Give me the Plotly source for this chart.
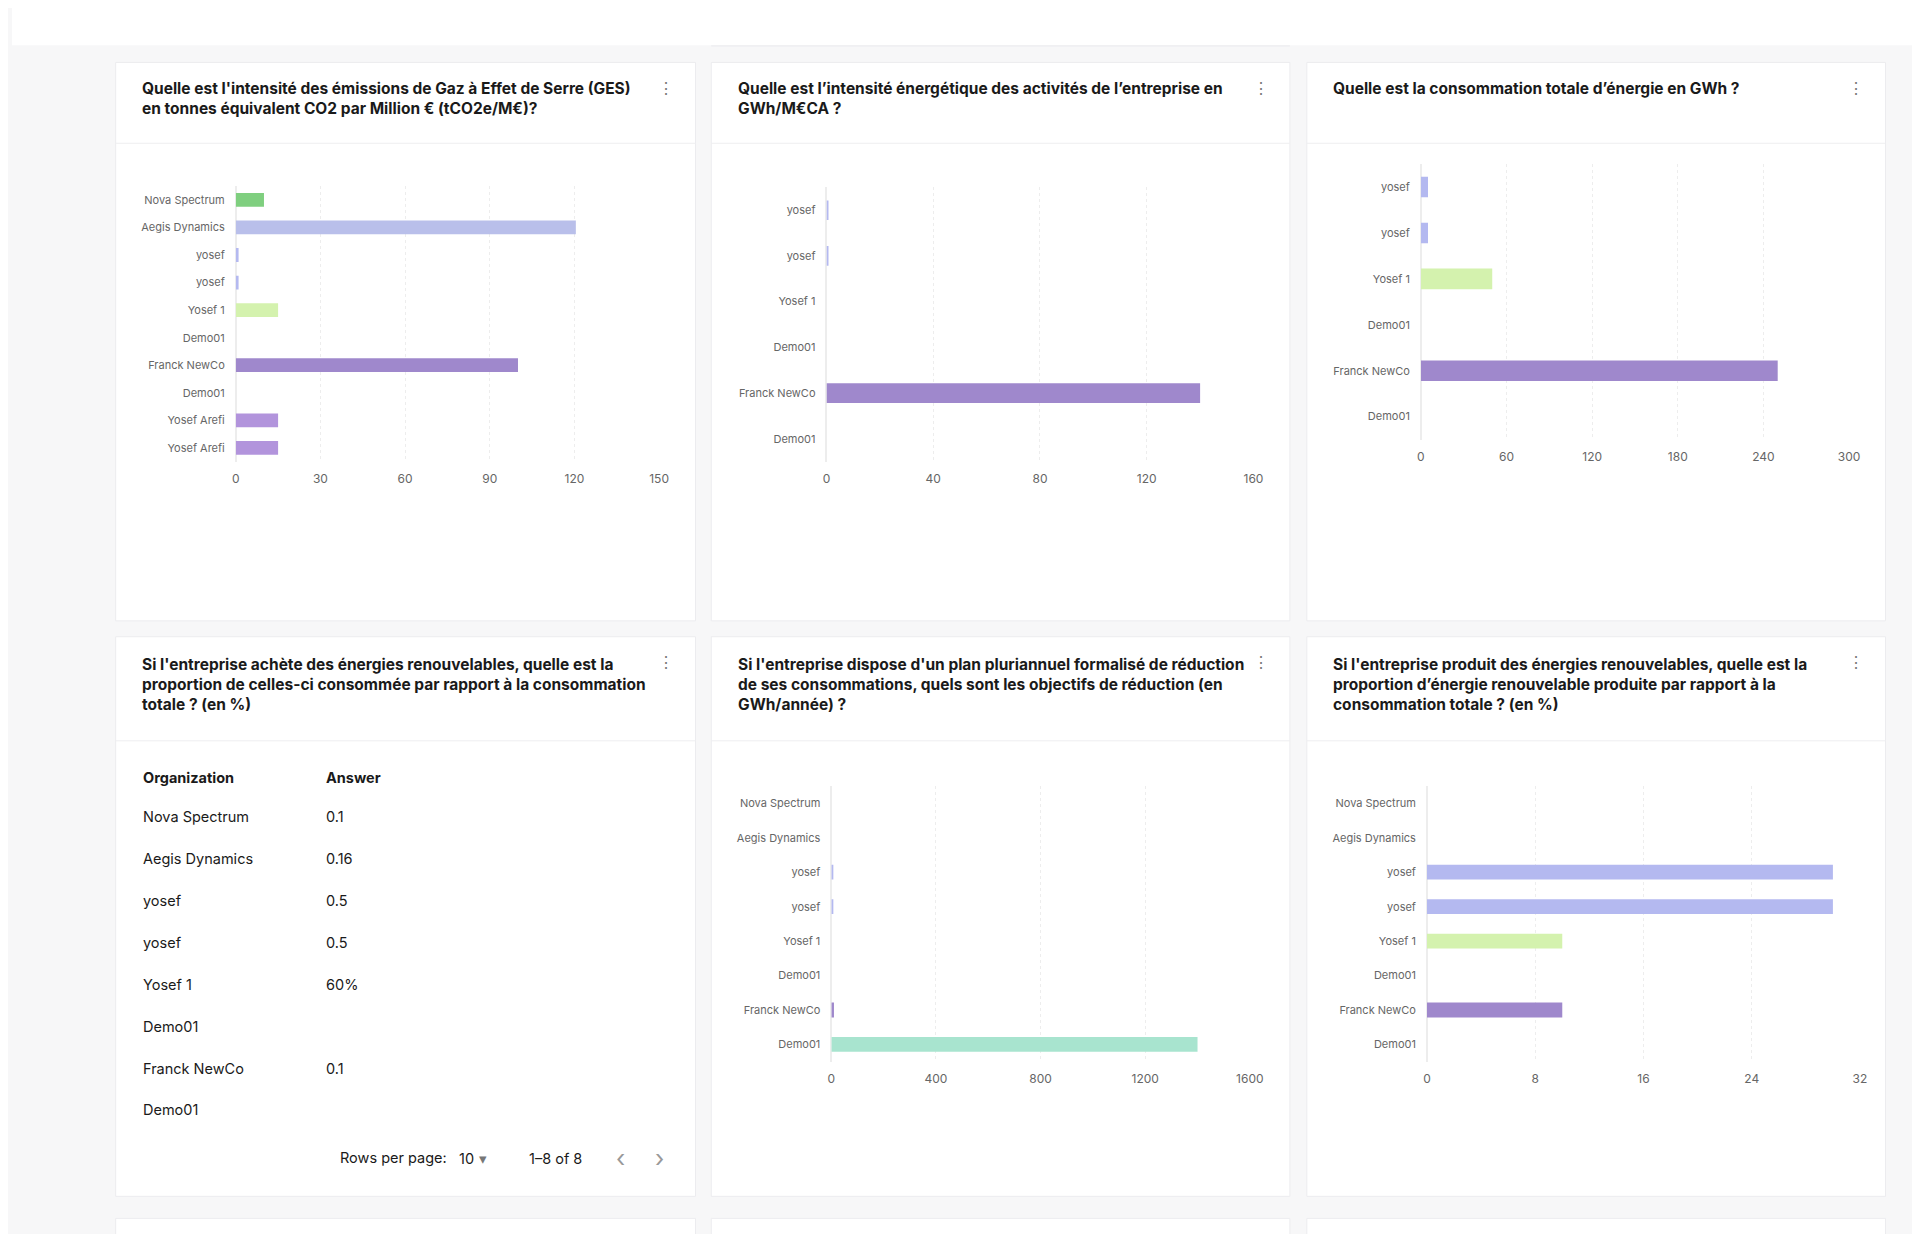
import plotly.graph_objects as go

S = 1920 / 1568
W, H = 1920, 1234
OFF = 8
FONT = "Inter"

# ---------------- data ----------------
c1_labels = ["Nova Spectrum", "Aegis Dynamics", "yosef", "yosef", "Yosef 1", "Demo01",
             "Franck NewCo", "Demo01", "Yosef Arefi", "Yosef Arefi"]
c1_values = [10, 120.5, 1, 1, 15, 0, 100, 0, 15, 15]
c1_colors = ["#7fcf7f", "#b9bfea", "#b4b9f0", "#b4b9f0", "#d4f2ae", "#d4f2ae",
             "#9f88cc", "#9f88cc", "#b294dc", "#b294dc"]

c2_labels = ["yosef", "yosef", "Yosef 1", "Demo01", "Franck NewCo", "Demo01"]
c2_values = [0.5, 0.5, 0, 0, 140, 0]
c2_colors = ["#b4b9f0", "#b4b9f0", "#d4f2ae", "#d4f2ae", "#9f88cc", "#9f88cc"]

c3_labels = ["yosef", "yosef", "Yosef 1", "Demo01", "Franck NewCo", "Demo01"]
c3_values = [5, 5, 50, 0, 250, 0]
c3_colors = ["#b4b9f0", "#b4b9f0", "#d4f2ae", "#d4f2ae", "#9f88cc", "#9f88cc"]

c5_labels = ["Nova Spectrum", "Aegis Dynamics", "yosef", "yosef", "Yosef 1", "Demo01",
             "Franck NewCo", "Demo01"]
c5_values = [0, 0, 5, 5, 0, 0, 10, 1400]
c5_colors = ["#7fcf7f", "#b9bfea", "#b4b9f0", "#b4b9f0", "#d4f2ae", "#d4f2ae",
             "#9f88cc", "#a8e4cf"]

c6_labels = ["Nova Spectrum", "Aegis Dynamics", "yosef", "yosef", "Yosef 1", "Demo01",
             "Franck NewCo", "Demo01"]
c6_values = [0, 0, 30, 30, 10, 0, 10, 0]
c6_colors = ["#7fcf7f", "#b9bfea", "#b4b9f0", "#b4b9f0", "#d4f2ae", "#d4f2ae",
             "#9f88cc", "#9f88cc"]

table_org = ["Nova Spectrum", "Aegis Dynamics", "yosef", "yosef", "Yosef 1", "Demo01",
             "Franck NewCo", "Demo01"]
table_ans = ["0.1", "0.16", "0.5", "0.5", "60%", "", "0.1", ""]

titles = [
    "Quelle est l'intensité des émissions de Gaz à Effet de Serre (GES)<br>en tonnes équivalent CO2 par Million € (tCO2e/M€)?",
    "Quelle est l’intensité énergétique des activités de l’entreprise en<br>GWh/M€CA ?",
    "Quelle est la consommation totale d’énergie en GWh ?",
    "Si l'entreprise achète des énergies renouvelables, quelle est la<br>proportion de celles-ci consommée par rapport à la consommation<br>totale ? (en %)",
    "Si l'entreprise dispose d'un plan pluriannuel formalisé de réduction<br>de ses consommations, quels sont les objectifs de réduction (en<br>GWh/année) ?",
    "Si l'entreprise produit des énergies renouvelables, quelle est la<br>proportion d’énergie renouvelable produite par rapport à la<br>consommation totale ? (en %)",
]

def px(x): return (x * S - OFF) / W
def py(y): return 1 - (y * S - OFF) / H

fig = go.Figure()
shapes = []
ann = []

def text(t, x, y, size, color, xanchor="left", yanchor="middle", align="left"):
    ann.append(dict(text=t, x=px(x), y=py(y), xref="paper", yref="paper", showarrow=False,
                    xanchor=xanchor, yanchor=yanchor, align=align,
                    font=dict(size=size, color=color, family=FONT)))

# background
shapes.append(dict(type="rect", xref="paper", yref="paper", x0=0, x1=1, y0=py(37), y1=1,
                   fillcolor="#ffffff", line=dict(width=0), layer="below"))
shapes.append(dict(type="rect", xref="paper", yref="paper", x0=px(583), x1=px(1060), y0=py(38), y1=py(37),
                   fillcolor="#ececef", line=dict(width=0), layer="below"))

cols = [(92, 570), (583, 1060), (1074, 1551)]
rows = [(51, 507, 117, 72), (520, 977, 605, 541), (995, 1030, None, None)]
for (t, b, sep, kb) in rows:
    for (l, r) in cols:
        shapes.append(dict(type="rect", xref="paper", yref="paper", x0=px(l), x1=px(r),
                           y0=max(py(b), -0.01), y1=py(t), fillcolor="#ffffff",
                           line=dict(color="#ececef", width=1), layer="below"))
        if sep:
            shapes.append(dict(type="line", xref="paper", yref="paper", x0=px(l), x1=px(r),
                               y0=py(sep), y1=py(sep), line=dict(color="#eeeef0", width=1), layer="below"))
            text("⋮", r - 24, kb, 16, "#777", xanchor="center")

title_pos = [(112, 63), (603, 63), (1094, 63), (112, 533), (603, 533), (1094, 533)]
for (tx, ty), tt in zip(title_pos, titles):
    text("<b>" + tt + "</b>", tx, ty, 15.5, "#1a1a1a", yanchor="top")

charts = [
    (c1_labels, c1_values, c1_colors, (191, 540), (152, 377), 150, 30, 0.5),
    (c2_labels, c2_values, c2_colors, (678, 1030), (153, 377), 160, 40, 0.43),
    (c3_labels, c3_values, c3_colors, (1168, 1521), (134, 359), 300, 60, 0.45),
    (c5_labels, c5_values, c5_colors, (682, 1027), (642, 867), 1600, 400, 0.43),
    (c6_labels, c6_values, c6_colors, (1173, 1530), (642, 867), 32, 8, 0.43),
]
lay = {}
for i, (labels, vals, colors, (xl, xr), (yt, yb), xmax, dt, wbar) in enumerate(charts, start=1):
    n = len(labels)
    xa = "x" if i == 1 else f"x{i}"
    ya = "y" if i == 1 else f"y{i}"
    fig.add_trace(go.Bar(x=vals, y=list(range(n)), orientation="h", width=wbar,
                         marker=dict(color=colors, line=dict(width=0)),
                         xaxis=xa, yaxis=ya, showlegend=False, hoverinfo="x"))
    lay["xaxis" if i == 1 else f"xaxis{i}"] = dict(
        domain=[px(xl), px(xr)], range=[0, xmax], dtick=dt, tick0=0, anchor=ya,
        showgrid=True, gridcolor="#ededed", griddash="dot", zeroline=True,
        zerolinecolor="#ededed", showline=False, ticks="",
        tickfont=dict(size=12, color="#666", family=FONT), ticklabelstandoff=8)
    lay["yaxis" if i == 1 else f"yaxis{i}"] = dict(
        domain=[py(yb), py(yt)], range=[n - 0.5, -0.5], tickvals=list(range(n)),
        ticktext=labels, anchor=xa, showgrid=False, zeroline=False, ticks="",
        tickfont=dict(size=11, color="#666", family=FONT), ticklabelstandoff=10)

# table
text("<b>Organization</b>", 113, 635, 14.5, "#1a1a1a")
text("<b>Answer</b>", 264, 635, 14.5, "#1a1a1a")
for k, (o, a) in enumerate(zip(table_org, table_ans)):
    yy = 667 + k * 34.2
    text(o, 113, yy, 14.5, "#1a1a1a")
    if a:
        text(a, 264, yy, 14.5, "#1a1a1a")
for txt, xx, col, sz in [("Rows per page:", 275, "#1a1a1a", 14.5), ("10", 373, "#1a1a1a", 14.5),
                         ("▾", 390, "#777", 14.5), ("1–8 of 8", 431, "#1a1a1a", 14.5),
                         ("‹", 503, "#999", 24), ("›", 535, "#999", 24)]:
    text(txt, xx, 946, sz, col)

fig.update_layout(width=W, height=H, margin=dict(l=0, r=0, t=0, b=0),
                  paper_bgcolor="#f7f7f8", plot_bgcolor="rgba(0,0,0,0)",
                  shapes=shapes, annotations=ann, bargap=0.5, **lay)
fig.write_html("out.html")
